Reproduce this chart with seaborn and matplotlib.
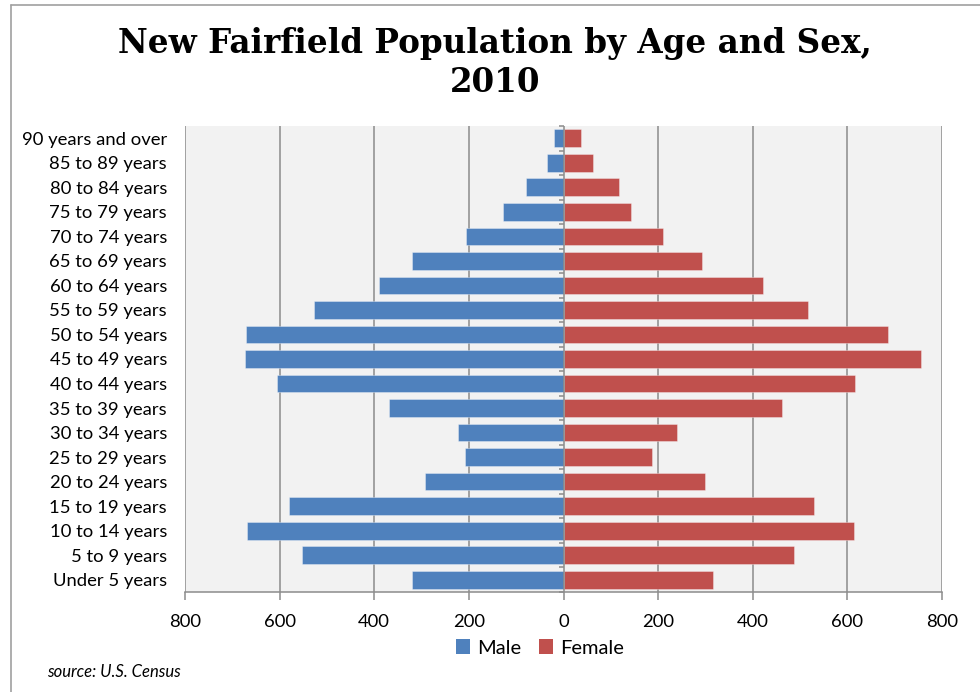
import matplotlib
matplotlib.use("Agg")
import matplotlib.pyplot as plt
from matplotlib.patches import Patch
from matplotlib.lines import Line2D
import seaborn as sns
import pandas as pd
import numpy as np

# Age groups, oldest first (top of the pyramid)
age_groups = [
    "90 years and over", "85 to 89 years", "80 to 84 years", "75 to 79 years",
    "70 to 74 years", "65 to 69 years", "60 to 64 years", "55 to 59 years",
    "50 to 54 years", "45 to 49 years", "40 to 44 years", "35 to 39 years",
    "30 to 34 years", "25 to 29 years", "20 to 24 years", "15 to 19 years",
    "10 to 14 years", "5 to 9 years", "Under 5 years",
]
male = [20, 35, 80, 128, 206, 321, 389, 527, 671, 674,
        605, 369, 223, 208, 293, 581, 668, 553, 321]
female = [37, 62, 118, 143, 210, 293, 421, 517, 686, 756,
          617, 461, 240, 188, 300, 530, 613, 487, 316]
x_ticks = [-800, -600, -400, -200, 0, 200, 400, 600, 800]
x_tick_labels = ["800", "600", "400", "200", "0", "200", "400", "600", "800"]

title = "New Fairfield Population by Age and Sex,\n2010"
source_note = "source: U.S. Census"

BLUE = "#4F81BD"
RED = "#C0504D"
GRID = "#8C8C8C"

df = pd.concat([
    pd.DataFrame({"age": age_groups, "count": [-v for v in male], "sex": "Male"}),
    pd.DataFrame({"age": age_groups, "count": female, "sex": "Female"}),
])

sns.set_theme(style="white")
plt.rcParams["font.family"] = ["Lato", "DejaVu Sans"]
plt.rcParams["text.color"] = "black"

fig = plt.figure(figsize=(9.8, 6.92), dpi=100)
ax = fig.add_axes([185 / 980, 1 - 592 / 692, (942 - 185) / 980, (592 - 126) / 692])
ax.set_facecolor("#F2F2F2")

sns.barplot(data=df, x="count", y="age", hue="sex", order=age_groups,
            hue_order=["Male", "Female"], palette=[BLUE, RED],
            dodge=False, width=0.72, orient="h", ax=ax, legend=False,
            linewidth=0.7, edgecolor="#FFFFFF55", saturation=1)

n = len(age_groups)
ax.set_xlim(-800, 800)
ax.set_ylim(n - 0.5, -0.5)

# vertical gridlines
for xv in x_ticks:
    if xv != 0:
        ax.axvline(xv, color=GRID, lw=1.1, zorder=0.5)
# central category axis with tick marks between categories
ax.axvline(0, color=GRID, lw=1.1, zorder=3)
for b in np.arange(-0.5, n, 1.0):
    ax.plot([-9, 0], [b, b], color=GRID, lw=1.1, zorder=3, clip_on=False,
            solid_capstyle="butt")

for side in ["top", "right", "left"]:
    ax.spines[side].set_visible(False)
ax.spines["bottom"].set_color(GRID)
ax.spines["bottom"].set_linewidth(1.1)

ax.set_xticks(x_ticks)
ax.set_xticklabels(x_tick_labels)
ax.tick_params(axis="x", which="both", bottom=True, length=6, width=1.1,
               color=GRID, pad=10, labelsize=13.3, labelcolor="black")
ax.tick_params(axis="y", left=False, pad=7, labelsize=13.3, labelcolor="black")
ax.set_xlabel("")
ax.set_ylabel("")
ax.grid(False)

fig.text(495 / 980, 1 - 27 / 692, title, ha="center", va="top",
         fontsize=23.5, fontweight="bold", family=["DejaVu Serif"],
         linespacing=1.25, color="black")

handles = [Patch(facecolor=BLUE, edgecolor="none"), Patch(facecolor=RED, edgecolor="none")]
fig.legend(handles, ["Male", "Female"], loc="center",
           bbox_to_anchor=(540 / 980, 1 - 648 / 692), ncol=2, frameon=False,
           fontsize=14.5, handlelength=0.7, handleheight=0.7,
           handletextpad=0.35, columnspacing=0.9)

fig.text(47 / 980, 1 - 672 / 692, source_note, ha="left", va="center",
         fontsize=12, style="italic", color="black")

# outer chart border (left and top edges)
fig.add_artist(Line2D([10.5 / 980, 10.5 / 980], [0, 1 - 5 / 692],
                      transform=fig.transFigure, color="#A0A0A0", lw=1.2))
fig.add_artist(Line2D([10.5 / 980, 1], [1 - 5 / 692, 1 - 5 / 692],
                      transform=fig.transFigure, color="#A0A0A0", lw=1.2))

fig.savefig("out.png", dpi=100, facecolor="white")
